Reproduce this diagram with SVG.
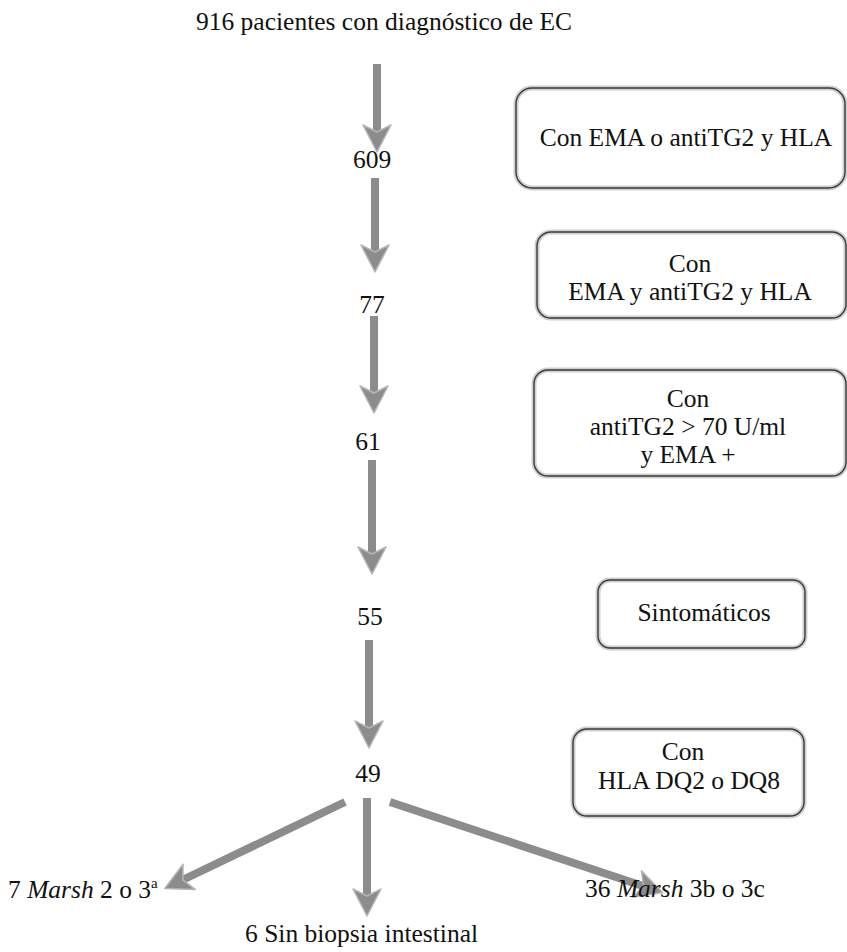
<svg xmlns="http://www.w3.org/2000/svg" width="847" height="952" viewBox="0 0 847 952">
  <style>
    text { font-family: "Liberation Serif", "Times New Roman", Tinos, "DejaVu Serif", "Noto Serif", serif; font-size: 25.5px; fill: #111; }
    .c { text-anchor: middle; }
    .box { fill: none; stroke: #3a3a3a; stroke-width: 1.4; }
    .halo { fill: none; stroke: #cfcfcf; stroke-width: 5; }
    .shaft { stroke: #8c8c8c; stroke-width: 8; fill: none; marker-end: url(#head); }
    .em { font-style: italic; }
  </style>
  <defs>
    <!-- swept-back arrowhead; tip sits 8 units beyond the shaft end -->
    <marker id="head" markerUnits="userSpaceOnUse" viewBox="-30 -16 34 32" markerWidth="34" markerHeight="32" refX="-8" refY="0" orient="auto">
      <path d="M0,0 L-27,-14 L-20,0 L-27,14 Z" fill="#8c8c8c" stroke="#b5b5b5" stroke-width="1.5" stroke-linejoin="round"/>
    </marker>
    <filter id="soft" x="-10%" y="-10%" width="120%" height="120%">
      <feGaussianBlur stdDeviation="0.7"/>
    </filter>
  </defs>

  <!-- flow arrows -->
  <g id="connectors" filter="url(#soft)">
    <line class="shaft" x1="377" y1="64" x2="377" y2="144"/>
    <line class="shaft" x1="375" y1="178" x2="375" y2="264"/>
    <line class="shaft" x1="374" y1="316" x2="374" y2="405"/>
    <line class="shaft" x1="372" y1="460" x2="372" y2="566"/>
    <line class="shaft" x1="369" y1="640" x2="369" y2="740"/>
    <line class="shaft" x1="345" y1="802" x2="172" y2="885"/>
    <line class="shaft" x1="367" y1="798" x2="367" y2="908"/>
    <line class="shaft" x1="390" y1="802" x2="655" y2="890"/>
  </g>

  <!-- counts down the main column -->
  <g id="n916"><text class="c" x="384" y="30">916 pacientes con diagnóstico de EC</text></g>
  <g id="n609"><text class="c" x="372" y="168">609</text></g>
  <g id="n77"><text class="c" x="372" y="313">77</text></g>
  <g id="n61"><text class="c" x="368" y="450">61</text></g>
  <g id="n55"><text class="c" x="370" y="625">55</text></g>
  <g id="n49"><text class="c" x="368" y="782">49</text></g>

  <!-- criteria boxes -->
  <g id="crit1">
    <rect class="halo" x="516" y="88" width="329" height="100" rx="16"/>
    <rect class="box" x="516" y="88" width="329" height="100" rx="16"/>
    <text class="c" x="686" y="146">Con EMA o antiTG2 y HLA</text>
  </g>
  <g id="crit2">
    <rect class="halo" x="537" y="232" width="309" height="86" rx="14"/>
    <rect class="box" x="537" y="232" width="309" height="86" rx="14"/>
    <text class="c" x="690" y="272">Con</text>
    <text class="c" x="690" y="300">EMA y antiTG2 y HLA</text>
  </g>
  <g id="crit3">
    <rect class="halo" x="534" y="370" width="312" height="106" rx="14"/>
    <rect class="box" x="534" y="370" width="312" height="106" rx="14"/>
    <text class="c" x="688" y="407">Con</text>
    <text class="c" x="688" y="435">antiTG2 &gt; 70 U/ml</text>
    <text class="c" x="688" y="463">y EMA +</text>
  </g>
  <g id="crit4">
    <rect class="halo" x="598" y="580" width="207" height="68" rx="12"/>
    <rect class="box" x="598" y="580" width="207" height="68" rx="12"/>
    <text class="c" x="704" y="621">Sintomáticos</text>
  </g>
  <g id="crit5">
    <rect class="halo" x="573" y="729" width="231" height="87" rx="14"/>
    <rect class="box" x="573" y="729" width="231" height="87" rx="14"/>
    <text class="c" x="683" y="760">Con</text>
    <text class="c" x="689" y="789">HLA DQ2 o DQ8</text>
  </g>

  <!-- outcomes -->
  <g id="out7"><text x="8" y="898">7 <tspan class="em">Marsh</tspan> 2 o 3<tspan font-size="15" dy="-10">a</tspan></text></g>
  <g id="out6"><text x="245" y="942">6 Sin biopsia intestinal</text></g>
  <g id="out36"><text x="585" y="897">36 <tspan class="em">Marsh</tspan> 3b o 3c</text></g>
</svg>
